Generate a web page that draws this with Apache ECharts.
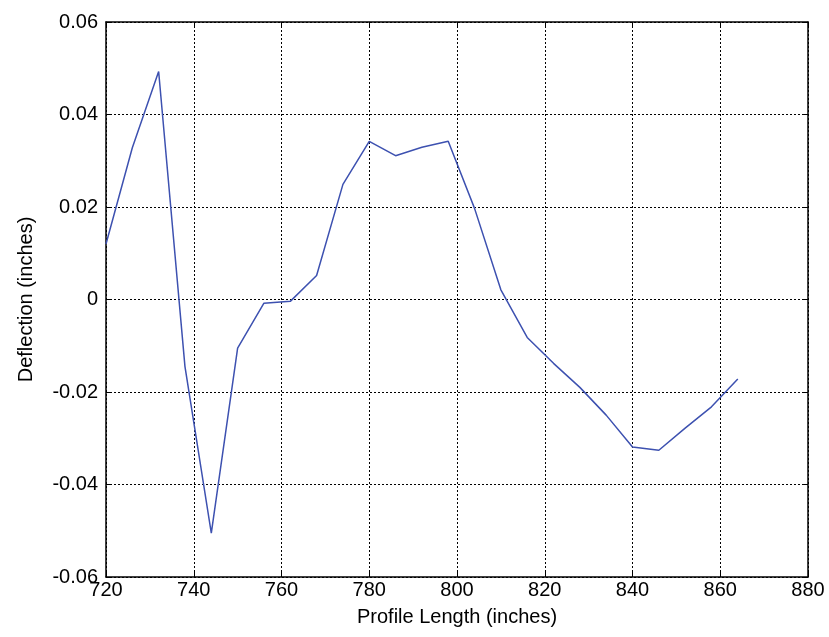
<!DOCTYPE html>
<html>
<head>
<meta charset="utf-8">
<script src="https://cdn.jsdelivr.net/npm/echarts@6/dist/echarts.min.js"></script>
<style>html,body{margin:0;padding:0;background:#fff}#c{width:829px;height:637px}</style>
</head>
<body>
<div id="c"></div>
<script>
const profileLength = [720, 726, 732, 738, 744, 750, 756, 762, 768, 774, 780, 786, 792, 798, 804, 810, 816, 822, 828, 834, 840, 846, 852, 858, 864];
const deflection = [0.012, 0.0328, 0.0493, -0.0145, -0.0505, -0.0105, -0.0008, -0.0004, 0.0052, 0.0249, 0.0342, 0.0311, 0.0329, 0.0342, 0.0197, 0.0021, -0.0082, -0.0138, -0.019, -0.025, -0.0319, -0.0326, -0.0278, -0.0232, -0.0172];
const xTicks = [720, 740, 760, 780, 800, 820, 840, 860, 880];
const yTicks = [-0.06, -0.04, -0.02, 0, 0.02, 0.04, 0.06];

const FONT = '"Liberation Sans", Arial, sans-serif';
const chart = echarts.init(document.getElementById('c'), null, {renderer: 'canvas'});
const axisCommon = {
  axisLine: {show: true, onZero: false, lineStyle: {color: '#000', width: 1.5}},
  axisTick: {show: true, inside: true, length: 5, lineStyle: {color: '#000'}},
  splitLine: {show: true, lineStyle: {color: '#000', type: [2, 2], width: 1}}
};
const frameAxis = {
  axisLine: {show: true, onZero: false, lineStyle: {color: '#000', width: 1.5}},
  axisTick: {show: true, inside: true, length: 5, lineStyle: {color: '#000'}},
  axisLabel: {show: false}, splitLine: {show: false}
};
chart.setOption({
  animation: false,
  backgroundColor: '#fff',
  grid: {left: 106, right: 21, top: 22, bottom: 60, show: false},
  xAxis: [{
    type: 'value', min: 720, max: 880, interval: 20,
    ...axisCommon,
    axisLabel: {color: '#000', fontSize: 20, fontFamily: FONT, margin: 3,
      formatter: v => xTicks.includes(v) ? String(v) : ''},
    name: 'Profile Length (inches)', nameLocation: 'middle', nameGap: 30,
    nameTextStyle: {color: '#000', fontSize: 20, fontFamily: FONT}
  }, {
    type: 'value', position: 'top', min: 720, max: 880, interval: 20,
    ...frameAxis
  }],
  yAxis: [{
    type: 'value', min: -0.06, max: 0.06, interval: 0.02,
    ...axisCommon,
    axisLabel: {color: '#000', fontSize: 20, fontFamily: FONT, margin: 8,
      formatter: v => { const t = yTicks.find(k => Math.abs(k - v) < 1e-9); return t === undefined ? '' : (t === 0 ? '0' : t.toFixed(2)); }},
    name: 'Deflection (inches)', nameLocation: 'middle', nameGap: 70,
    nameTextStyle: {color: '#000', fontSize: 20, fontFamily: FONT}
  }, {
    type: 'value', position: 'right', min: -0.06, max: 0.06, interval: 0.02,
    ...frameAxis
  }],
  series: [{
    type: 'line',
    data: profileLength.map((x, i) => [x, deflection[i]]),
    showSymbol: false,
    lineStyle: {color: '#3d51b0', width: 1.5},
    itemStyle: {color: '#3d51b0'}
  }]
});
</script>
</body>
</html>
